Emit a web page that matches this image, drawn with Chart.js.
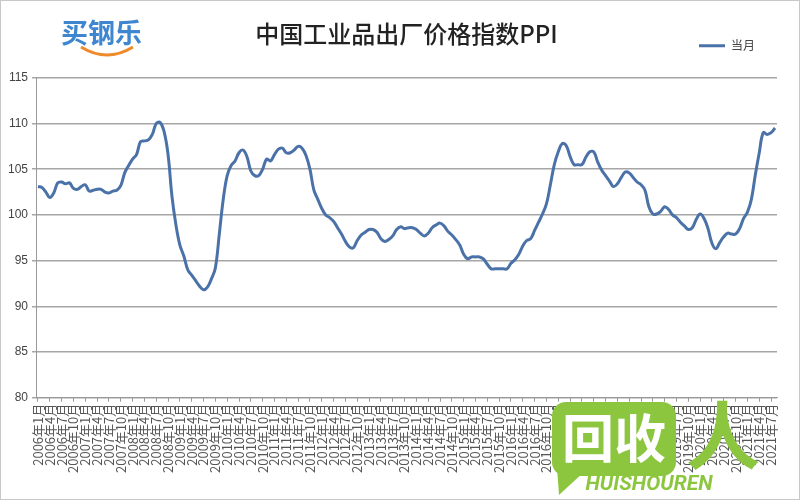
<!DOCTYPE html>
<html>
<head>
<meta charset="utf-8">
<script src="https://cdn.jsdelivr.net/npm/chart.js@4.4.1/dist/chart.umd.min.js"></script>
<style>
  html, body { margin: 0; padding: 0; background: #fff; }
  #wrap { position: relative; width: 800px; height: 500px; box-sizing: border-box; border: 1px solid #c8c8c8; }
</style>
</head>
<body>
<div id="wrap"><canvas id="ppiChart" width="798" height="498"></canvas></div>
<script>
// 2006年1月 起，逐月
const startYear = 2006;
const yTicks = [80, 85, 90, 95, 100, 105, 110, 115];

const ppi2006 = [103.1, 103.0, 102.5, 101.9, 102.4, 103.5, 103.6, 103.4, 103.5, 102.9, 102.8, 103.1];
const ppi2007 = [103.3, 102.6, 102.7, 102.8, 102.8, 102.5, 102.4, 102.6, 102.7, 103.2, 104.6, 105.4];
const ppi2008 = [106.1, 106.6, 108.0, 108.1, 108.2, 108.8, 110.0, 110.1, 109.1, 106.6, 102.0, 98.9];
const ppi2009 = [96.7, 95.5, 94.0, 93.4, 92.8, 92.2, 91.8, 92.1, 93.0, 94.2, 97.9, 101.7];
const ppi2010 = [104.3, 105.4, 105.9, 106.8, 107.1, 106.4, 104.8, 104.3, 104.3, 105.0, 106.1, 105.9];
const ppi2011 = [106.6, 107.2, 107.3, 106.8, 106.8, 107.1, 107.5, 107.3, 106.5, 105.0, 102.7, 101.7];
const ppi2012 = [100.7, 100.0, 99.7, 99.3, 98.6, 97.9, 97.1, 96.5, 96.4, 97.2, 97.8, 98.1];
const ppi2013 = [98.4, 98.4, 98.1, 97.4, 97.1, 97.3, 97.7, 98.4, 98.7, 98.5, 98.6, 98.6];
const ppi2014 = [98.4, 98.0, 97.7, 98.0, 98.6, 98.9, 99.1, 98.8, 98.2, 97.8, 97.3, 96.7];
const ppi2015 = [95.7, 95.2, 95.4, 95.4, 95.4, 95.2, 94.6, 94.1, 94.1, 94.1, 94.1, 94.1];
const ppi2016 = [94.7, 95.1, 95.7, 96.6, 97.2, 97.4, 98.3, 99.2, 100.1, 101.2, 103.3, 105.5];
const ppi2017 = [106.9, 107.8, 107.6, 106.4, 105.5, 105.5, 105.5, 106.3, 106.9, 106.9, 105.8, 104.9];
const ppi2018 = [104.3, 103.7, 103.1, 103.4, 104.1, 104.7, 104.6, 104.1, 103.6, 103.3, 102.7, 100.9];
const ppi2019 = [100.1, 100.1, 100.4, 100.9, 100.6, 100.0, 99.7, 99.2, 98.8, 98.4, 98.6, 99.5];
const ppi2020 = [100.1, 99.6, 98.5, 96.9, 96.3, 97.0, 97.6, 98.0, 97.9, 97.9, 98.5, 99.6];
const ppi2021 = [100.3, 101.7, 104.4, 106.8, 109.0, 108.8, 109.0, 109.5];

const ppiData = [].concat(ppi2006, ppi2007, ppi2008, ppi2009, ppi2010, ppi2011, ppi2012, ppi2013,
  ppi2014, ppi2015, ppi2016, ppi2017, ppi2018, ppi2019, ppi2020, ppi2021);

const monthLabels = ppiData.map((v, i) => (startYear + Math.floor(i / 12)) + '年' + (i % 12 + 1) + '月');

const cjk = "'Noto Sans CJK SC', 'Noto Sans', sans-serif";

// logos drawn on top (watermarks in the picture)
const logoPlugin = {
  id: 'logos',
  afterDraw(chart) {
    const c = chart.ctx;
    c.save();
    // 买钢乐
    c.font = 'bold 27px ' + cjk;
    c.fillStyle = '#3f86d0';
    c.textBaseline = 'alphabetic';
    c.fillText('买钢乐', 60, 42);
    c.strokeStyle = '#ef8a2a';
    c.lineWidth = 3;
    c.beginPath();
    c.moveTo(80, 46);
    c.quadraticCurveTo(106, 62, 132, 46);
    c.stroke();

    // 回收人 watermark
    c.fillStyle = '#8cc63f';
    c.beginPath();
    c.roundRect(551, 401, 124, 74, 14);
    c.fill();
    c.beginPath();
    c.moveTo(556, 466);
    c.lineTo(584, 470);
    c.lineTo(558, 494);
    c.closePath();
    c.fill();
    c.fillStyle = '#fff';
    c.font = 'bold 52px ' + cjk;
    c.textAlign = 'center';
    c.textBaseline = 'middle';
    c.fillText('回收', 613, 437);
    c.fillStyle = '#8cc63f';
    c.font = 'bold 74px ' + cjk;
    c.fillText('人', 722, 434);
    c.font = 'italic bold 21px Roboto, sans-serif';
    c.fillText('HUISHOUREN', 648, 484);
    c.restore();
  }
};

const ctx = document.getElementById('ppiChart').getContext('2d');

const ppiChart = new Chart(ctx, {
  type: 'line',
  data: {
    labels: monthLabels,
    datasets: [{
      label: '当月',
      data: ppiData,
      borderColor: '#4a72a8',
      backgroundColor: '#4a72a8',
      borderWidth: 3,
      pointRadius: 0,
      tension: 0.4,
      fill: false
    }]
  },
  options: {
    responsive: false,
    animation: false,
    layout: { padding: { left: 3, right: 22, top: 0, bottom: 24 } },
    scales: {
      x: {
        type: 'category',
        offset: true,
        grid: {
          drawOnChartArea: false,
          tickLength: 4,
          color: (c) => (c.index % 3 === 0 ? '#999' : 'rgba(0,0,0,0)')
        },
        border: { color: '#999', width: 1 },
        ticks: {
          autoSkip: false,
          minRotation: 90,
          maxRotation: 90,
          padding: 2,
          color: '#555',
          font: { family: cjk, size: 13 },
          callback: function (val, i) { return i % 3 === 0 ? this.getLabelForValue(val) : ''; }
        }
      },
      y: {
        min: 80,
        max: 115,
        afterBuildTicks: (axis) => { axis.ticks = yTicks.map(v => ({ value: v })); },
        grid: { color: '#a6a6a6', lineWidth: 1.5, tickLength: 4 },
        border: { color: '#999', width: 1 },
        ticks: {
          color: '#444',
          padding: 4,
          font: { family: "'Liberation Sans', sans-serif", size: 12 }
        }
      }
    },
    plugins: {
      title: {
        display: true,
        fullSize: false,
        text: '中国工业品出厂价格指数PPI',
        color: '#222',
        font: { family: cjk, size: 24, weight: '500' },
        padding: { top: 18, bottom: -30 }
      },
      // empty spacer between legend and plot
      subtitle: {
        display: true,
        fullSize: false,
        weight: 500,
        text: '',
        font: { size: 16, lineHeight: 1 },
        padding: 0
      },
      legend: {
        display: true,
        fullSize: false,
        position: 'top',
        align: 'end',
        labels: {
          usePointStyle: true,
          pointStyle: 'line',
          pointStyleWidth: 26,
          color: '#444',
          font: { family: cjk, size: 12 },
          padding: 22
        }
      },
      tooltip: { enabled: false }
    }
  },
  plugins: [logoPlugin]
});
</script>
</body>
</html>
